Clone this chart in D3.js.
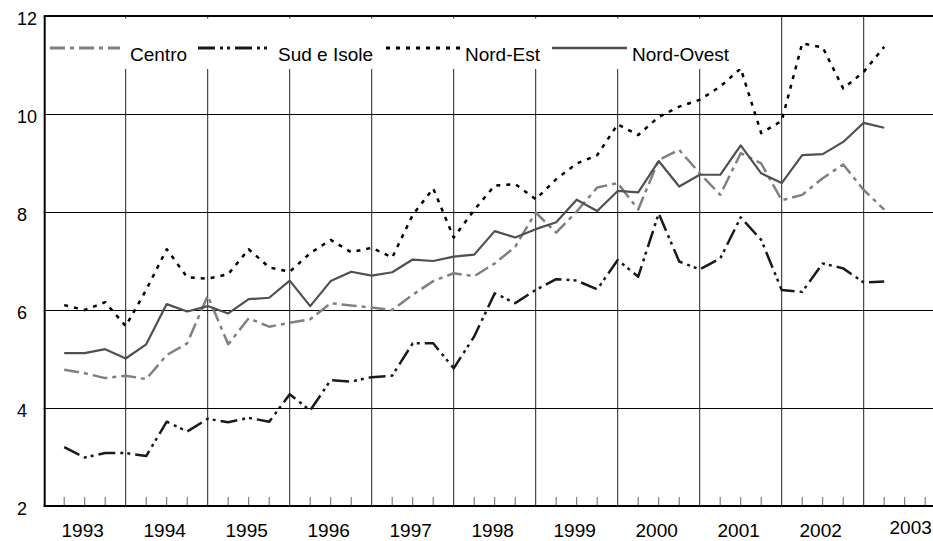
<!DOCTYPE html>
<html>
<head>
<meta charset="utf-8">
<script src="https://cdn.jsdelivr.net/npm/d3@7"></script>
<style>
  body { margin: 0; background: #fff; }
  svg text { font-family: "Liberation Sans", Arial, sans-serif; fill: #000; }
</style>
</head>
<body>
<div id="chart"></div>
<script>
// quarterly values, 1993 Q1 .. 2003 Q1
var years = ["1993", "1994", "1995", "1996", "1997", "1998", "1999", "2000", "2001", "2002", "2003"];
var yTicks = [2, 4, 6, 8, 10, 12];

var seriesNames = ["Centro", "Sud e Isole", "Nord-Est", "Nord-Ovest"];

var centro = [4.78, 4.71, 4.61, 4.66, 4.59, 5.08, 5.32, 6.29, 5.30, 5.83, 5.66, 5.74, 5.81, 6.14,
  6.09, 6.05, 6.00, 6.31, 6.59, 6.75, 6.69, 6.95, 7.29, 7.99, 7.58, 8.01, 8.50, 8.59,
  8.05, 9.06, 9.27, 8.79, 8.35, 9.20, 8.99, 8.24, 8.35, 8.69, 8.97, 8.45, 8.05];

var sudIsole = [3.20, 2.99, 3.08, 3.08, 3.02, 3.72, 3.52, 3.78, 3.71, 3.80, 3.72, 4.28, 3.95, 4.57,
  4.54, 4.63, 4.66, 5.32, 5.32, 4.81, 5.46, 6.34, 6.14, 6.41, 6.63, 6.60, 6.42, 7.02,
  6.68, 7.97, 6.99, 6.83, 7.05, 7.89, 7.43, 6.41, 6.37, 6.95, 6.85, 6.56, 6.58];

var nordEst = [6.10, 6.00, 6.16, 5.67, 6.41, 7.24, 6.67, 6.64, 6.73, 7.24, 6.87, 6.78, 7.16, 7.43,
  7.18, 7.27, 7.07, 7.94, 8.48, 7.48, 8.04, 8.54, 8.57, 8.26, 8.67, 8.99, 9.16, 9.79,
  9.57, 9.94, 10.15, 10.29, 10.56, 10.93, 9.61, 9.86, 11.44, 11.36, 10.52, 10.86, 11.37];

var nordOvest = [5.12, 5.12, 5.20, 5.01, 5.30, 6.12, 5.97, 6.08, 5.93, 6.22, 6.25, 6.60, 6.08, 6.59,
  6.78, 6.70, 6.77, 7.03, 7.00, 7.09, 7.13, 7.61, 7.48, 7.65, 7.79, 8.25, 8.02, 8.43,
  8.40, 9.04, 8.52, 8.76, 8.76, 9.36, 8.79, 8.59, 9.16, 9.18, 9.43, 9.82, 9.72];

var seriesValues = [centro, sudIsole, nordEst, nordOvest];

var width = 933, height = 541;
var plotLeft = 43.7, plotTop = 16, plotBottom = 506, quarterW = 20.5;

// line styles, same order as seriesNames
var styles = [
  { color: "#808080", width: 2.5, dash: "15,5,4,5" },
  { color: "#1a1a1a", width: 2.5, dash: "17,5,3,4,3,5" },
  { color: "#000000", width: 2.5, dash: "4,6" },
  { color: "#505050", width: 2.2, dash: null }
];

// legend layout: sample start/end and text x
var legendPos = [
  { x1: 50, x2: 120, tx: 130 },
  { x1: 198, x2: 268, tx: 278 },
  { x1: 386, x2: 462, tx: 465 },
  { x1: 552, x2: 627, tx: 632 }
];

var svg = d3.select("#chart").append("svg")
  .attr("width", width)
  .attr("height", height);

// x in quarters from start of 1993; point i sits at quarter i+1
var x = d3.scaleLinear().domain([0, 44]).range([plotLeft, plotLeft + 44 * quarterW]);
var y = d3.scaleLinear().domain([2, 12]).range([plotBottom, plotTop]);

// horizontal grid
svg.append("g")
  .selectAll("line")
  .data(yTicks.filter(function(d) { return d > 2 && d < 12; }))
  .enter().append("line")
  .attr("x1", plotLeft).attr("x2", width)
  .attr("y1", function(d) { return Math.round(y(d)) + 0.5; })
  .attr("y2", function(d) { return Math.round(y(d)) + 0.5; })
  .attr("stroke", "#000").attr("stroke-width", 1);

// vertical grid at year boundaries
svg.append("g")
  .selectAll("line")
  .data(d3.range(1, 11))
  .enter().append("line")
  .attr("x1", function(d) { return x(d * 4); })
  .attr("x2", function(d) { return x(d * 4); })
  .attr("y1", plotTop).attr("y2", plotBottom)
  .attr("stroke", "#222").attr("stroke-width", 1);

// quarter ticks on the bottom axis
svg.append("g")
  .selectAll("line")
  .data(d3.range(1, 44).filter(function(q) { return q % 4 != 0; }))
  .enter().append("line")
  .attr("x1", function(d) { return x(d); })
  .attr("x2", function(d) { return x(d); })
  .attr("y1", plotBottom - 9).attr("y2", plotBottom)
  .attr("stroke", "#666").attr("stroke-width", 1);

// series
var line = d3.line()
  .x(function(d, i) { return x(i + 1); })
  .y(function(d) { return y(d); });

svg.append("g")
  .selectAll("path")
  .data(seriesValues)
  .enter().append("path")
  .attr("d", line)
  .attr("fill", "none")
  .attr("stroke", function(d, i) { return styles[i].color; })
  .attr("stroke-width", function(d, i) { return styles[i].width; })
  .attr("stroke-dasharray", function(d, i) { return styles[i].dash; })
  .attr("stroke-linejoin", "round");

// legend box (white, covers the grid)
var legend = svg.append("g");
legend.append("rect")
  .attr("x", plotLeft + 1.5).attr("y", 18.5)
  .attr("width", 745 - plotLeft).attr("height", 50.5)
  .attr("fill", "#fff");

legend.selectAll("line")
  .data(seriesNames)
  .enter().append("line")
  .attr("x1", function(d, i) { return legendPos[i].x1; })
  .attr("x2", function(d, i) { return legendPos[i].x2; })
  .attr("y1", 48).attr("y2", 48)
  .attr("stroke", function(d, i) { return styles[i].color; })
  .attr("stroke-width", function(d, i) { return styles[i].width + 0.5; })
  .attr("stroke-dasharray", function(d, i) { return styles[i].dash; });

legend.selectAll("text")
  .data(seriesNames)
  .enter().append("text")
  .attr("x", function(d, i) { return legendPos[i].tx; })
  .attr("y", 60.5)
  .style("font-size", "19px")
  .text(function(d) { return d; });

// axes frame
svg.append("line")
  .attr("x1", plotLeft + 1).attr("x2", plotLeft + 1).attr("y1", plotTop).attr("y2", plotBottom + 1)
  .attr("stroke", "#000").attr("stroke-width", 2);
svg.append("line")
  .attr("x1", plotLeft).attr("x2", width).attr("y1", plotTop).attr("y2", plotTop)
  .attr("stroke", "#000").attr("stroke-width", 2);
svg.append("line")
  .attr("x1", plotLeft).attr("x2", width).attr("y1", plotBottom).attr("y2", plotBottom)
  .attr("stroke", "#000").attr("stroke-width", 2);

// y labels (left aligned, as in the original)
svg.append("g")
  .selectAll("text")
  .data(yTicks)
  .enter().append("text")
  .attr("x", 17)
  .attr("y", function(d) { return y(d) + 9; })
  .style("font-size", "18px")
  .text(function(d) { return d; });

// year labels
svg.append("g")
  .selectAll("text")
  .data(years)
  .enter().append("text")
  .attr("text-anchor", "middle")
  .attr("x", function(d, i) { return i < 10 ? x(i * 4 + 2) - 2 : x(i * 4 + 2) + 6; })
  .attr("y", function(d, i) { return i < 10 ? 537 : 534; })
  .style("font-size", "19px")
  .text(function(d) { return d; });
</script>
</body>
</html>
